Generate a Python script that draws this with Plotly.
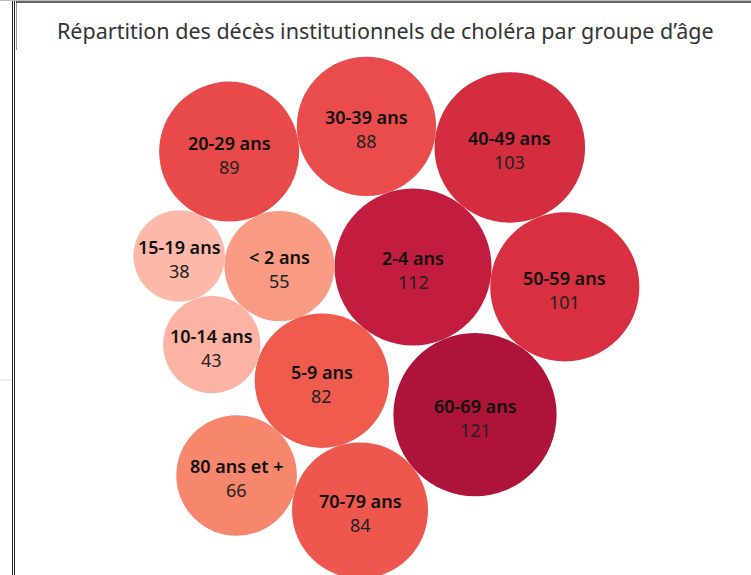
import numpy as np
import plotly.graph_objects as go

# ---- data -------------------------------------------------------------
groups = ["2-4 ans", "< 2 ans", "5-9 ans", "10-14 ans", "15-19 ans", "20-29 ans",
          "30-39 ans", "40-49 ans", "50-59 ans", "60-69 ans", "70-79 ans", "80 ans et +"]
deaths = [112, 55, 82, 43, 38, 89, 88, 103, 101, 121, 84, 66]

title_text = "Répartition des décès institutionnels de choléra par groupe d’âge"

# ---- packed-bubble layout (each bubble tangent to two already placed) --
# (bubble, neighbour 1, neighbour 2, side)
pack_order = [
    ("5-9 ans", "2-4 ans", "< 2 ans", -1),
    ("10-14 ans", "< 2 ans", "5-9 ans", 1),
    ("15-19 ans", "< 2 ans", "10-14 ans", 1),
    ("20-29 ans", "< 2 ans", "15-19 ans", 1),
    ("30-39 ans", "2-4 ans", "20-29 ans", 1),
    ("40-49 ans", "2-4 ans", "30-39 ans", 1),
    ("50-59 ans", "2-4 ans", "40-49 ans", 1),
    ("60-69 ans", "2-4 ans", "50-59 ans", 1),
    ("70-79 ans", "5-9 ans", "60-69 ans", 1),
    ("80 ans et +", "5-9 ans", "70-79 ans", 1),
]
K = 7.42  # pixels of radius per sqrt(death)
radius = {g: K * np.sqrt(v) for g, v in zip(groups, deaths)}

centers = {}
centers["2-4 ans"] = np.array([0.0, 0.0])
ang = np.deg2rad(179.6)
d0 = radius["2-4 ans"] + radius["< 2 ans"]
centers["< 2 ans"] = np.array([d0 * np.cos(ang), -d0 * np.sin(ang)])


def tangent(p, rp, q, rq, r, s):
    d1, d2 = rp + r, rq + r
    v = q - p
    D = np.hypot(*v)
    u = v / D
    n = np.array([-u[1], u[0]])
    a = (d1 ** 2 - d2 ** 2 + D ** 2) / (2 * D)
    h = np.sqrt(max(d1 ** 2 - a ** 2, 0.0))
    return p + a * u + s * h * n


for g, p, q, s in pack_order:
    centers[g] = tangent(centers[p], radius[p], centers[q], radius[q], radius[g], s)

xs = [centers[g][0] for g in groups]
ys = [centers[g][1] for g in groups]

# ---- figure -----------------------------------------------------------
W, H = 751, 575
AX, AY = 413, 267  # pixel position of the first bubble

colorscale = [
    (0.0, "#fcb9a9"), (0.06, "#fcb3a3"), (0.205, "#f99a82"), (0.337, "#f6866c"),
    (0.53, "#ef5c4e"), (0.602, "#e94c4b"), (0.759, "#d83040"), (0.892, "#c21d3e"),
    (1.0, "#ae1339"),
]

fig = go.Figure()
fig.add_trace(go.Scatter(
    x=xs, y=ys, mode="markers",
    marker=dict(
        size=deaths, sizemode="area", sizeref=2.0 / (2 * K) ** 2,
        color=deaths, colorscale=colorscale, cmin=min(deaths), cmax=max(deaths),
        line=dict(width=0), opacity=1,
    ),
    hoverinfo="skip", showlegend=False,
))

annotations = []
for g, v, x, y in zip(groups, deaths, xs, ys):
    annotations.append(dict(x=x, y=y, text=g, showarrow=False, yshift=9,
                            font=dict(family="Noto Sans", size=18, color="#111111", weight=600)))
    annotations.append(dict(x=x, y=y, text=str(v), showarrow=False, yshift=-15,
                            font=dict(family="Noto Sans", size=18, color="#222222")))
annotations.append(dict(x=0.513, y=1 - 30 / H, xref="paper", yref="paper", text=title_text,
                        showarrow=False, xanchor="center", yanchor="middle",
                        font=dict(family="Noto Sans", size=21.5, color="#333333")))
fig.update_layout(annotations=annotations)

line_k = dict(color="#222222", width=1)
shapes = [
    dict(type="line", xref="paper", yref="paper", x0=12.5 / W, x1=12.5 / W, y0=0, y1=1, line=line_k),
    dict(type="line", xref="paper", yref="paper", x0=14.5 / W, x1=14.5 / W, y0=0, y1=1, line=line_k),
    dict(type="line", xref="paper", yref="paper", x0=16.5 / W, x1=16.5 / W, y0=1, y1=1 - 50 / H,
         line=dict(color="#999999", width=1)),
    dict(type="line", xref="paper", yref="paper", x0=0, x1=1, y0=1 - 0.5 / H, y1=1 - 0.5 / H,
         line=dict(color="#bbbbbb", width=1)),
    dict(type="line", xref="paper", yref="paper", x0=16 / W, x1=1, y0=1 - 2 / H, y1=1 - 2 / H,
         line=dict(color="#333333", width=1.5)),
    dict(type="line", xref="paper", yref="paper", x0=0, x1=12 / W, y0=1 - 380 / H, y1=1 - 380 / H,
         line=dict(color="#dddddd", width=1)),
]

fig.update_layout(
    width=W, height=H, autosize=False,
    margin=dict(l=0, r=0, t=0, b=0, pad=0),
    paper_bgcolor="white", plot_bgcolor="white",
    xaxis=dict(range=[-AX, W - AX], visible=False, fixedrange=True),
    yaxis=dict(range=[H - AY, -AY], visible=False, fixedrange=True),
    shapes=shapes,
    hovermode=False,
)

fig.write_html("out.html", config={"displayModeBar": False},
               post_script="document.body.style.margin='0';document.body.style.overflow='hidden';")
